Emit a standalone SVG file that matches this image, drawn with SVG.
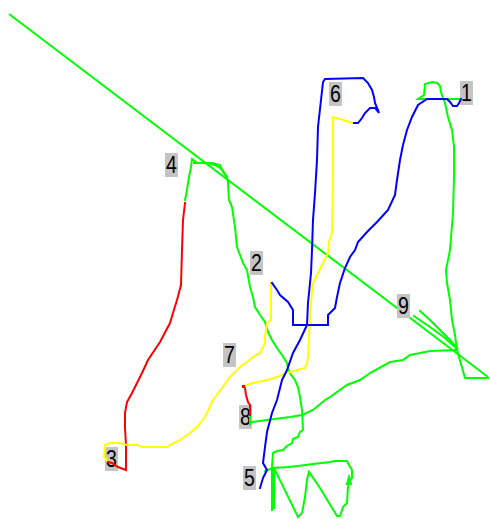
<svg xmlns="http://www.w3.org/2000/svg" width="490" height="519" viewBox="0 0 490 519">
<style>
.bg{fill:#ffffff}
.p{fill:none;stroke-width:2;stroke-linejoin:miter;stroke-linecap:square}
.g{stroke:#00ff00}
.b{stroke:#0000ff}
.r{stroke:#ff0000}
.y{stroke:#ffff00}
.lb{fill:#c4c4c4}
.lt{font-family:"Liberation Sans",Arial,sans-serif;font-size:23px;fill:#000;text-anchor:middle}
</style>
<rect class="bg" x="0" y="0" width="490" height="519"/>
<g id="guide">
<line class="p g" x1="9" y1="14" x2="488" y2="377" style="stroke-linecap:butt"/>
</g>
<g id="labels">
<g id="n1"><rect class="lb" x="460" y="81" width="13" height="24"/><text class="lt" transform="translate(466.5,101) scale(0.85,1)">1</text></g>
<g id="n6"><rect class="lb" x="329" y="82" width="13" height="24"/><text class="lt" transform="translate(335.5,102) scale(0.85,1)">6</text></g>
<g id="n4"><rect class="lb" x="165" y="153" width="13" height="24"/><text class="lt" transform="translate(171.5,173) scale(0.85,1)">4</text></g>
<g id="n2"><rect class="lb" x="250" y="251" width="13" height="24"/><text class="lt" transform="translate(256.5,271) scale(0.85,1)">2</text></g>
<g id="n9"><rect class="lb" x="397" y="294" width="13" height="24"/><text class="lt" transform="translate(403.5,314) scale(0.85,1)">9</text></g>
<g id="n7"><rect class="lb" x="223" y="343" width="13" height="24"/><text class="lt" transform="translate(229.5,363) scale(0.85,1)">7</text></g>
<g id="n8"><rect class="lb" x="239" y="405" width="13" height="24"/><text class="lt" transform="translate(245.5,425) scale(0.85,1)">8</text></g>
<g id="n3"><rect class="lb" x="105" y="447" width="13" height="24"/><text class="lt" transform="translate(111.5,467) scale(0.85,1)">3</text></g>
<g id="n5"><rect class="lb" x="243" y="466" width="13" height="24"/><text class="lt" transform="translate(249.5,486) scale(0.85,1)">5</text></g>
</g>
<g id="connectors">
<polyline class="p g" points="185,200 187,190 189,177 191,167 192,159 196,162"/>
<polyline class="p g" points="194,163 212,163 220,165 223,172 227,177 228,183 229,200 232,207 235,227 237,247 240,255 243,263 247,270 250,287 253,297 255,307 260,315 265,322 268,332 272,340 277,348 282,355 287,363 289,372 295,380 298,387 300,397 302,410 303,430 300,432 298,437 293,439 292,443 287,446 283,450 277,451 273,453 272,467 272,510"/>
<path class="p g" d="M205,163 Q222,164 227,178"/>
<polyline class="p g" points="265,471 273,468 288,467 298,466 313,464 330,462 335,461 347,461 349,465 352,470 352,478 350,480 348,487 347,503 343,507 340,516 337,516 320,488 309,472 307,480 305,497 302,513 298,517 275,470"/>
<line class="p g" x1="274" y1="470" x2="274" y2="508"/>
<polyline class="p g" points="347,484 349,477 351,484"/>
<polyline class="p g" points="250,415 250,424 252,422 267,420 290,417 302,415 313,410 325,400 330,397 347,385 360,380 370,373 390,362 403,360 410,355 430,351 457,350"/>
<polyline class="p g" points="457,350 465,378 488,378"/>
<polyline class="p g" points="420,311 430,320 440,330 450,340 457,348"/>
<polyline class="p g" points="414,316 430,327 445,338 457,349"/>
<polyline class="p g" points="457,350 455,335 452,320 450,300 447,283 446,270 450,250 453,213 454,177 454,147 452,130 448,117 445,103 443,98 441,92 440,86 437,83 432,82 425,84 424,95 418,99 460,99"/>
<polyline class="p r" points="185,203 183,220 182,250 181,285 177,300 173,313 170,323 160,342 148,360 142,373 137,383 132,393 127,402 125,413 125,428 126,445 126,470 118,467 112,463 108,462"/>
<polyline class="p r" points="243,386 245,388 246,395 248,402 250,405 250,415"/>
<polyline class="p y" points="353,123 343,120 333,117 333,180 332,232 329,242 328,253 323,263 318,273 313,283 312,290 310,317 308,357 307,363 305,368 297,370 287,373 277,377 267,380 253,383 246,385"/>
<polyline class="p y" points="271,283 271,320 267,323 265,337 265,343 260,353 253,357 247,362 240,367 230,377 222,388 213,400 205,417 197,427 190,433 180,440 170,445 167,447 142,447 137,445 127,445 120,443 110,443 105,445 104,457 107,460"/>
<polyline class="p b" points="260,488 263,478 267,470 263,463 265,447 267,432 272,413 277,400 282,380 287,370 293,353 300,340 307,325 308,303 311,273 312,250 313,220 315,193 317,160 318,127 321,100 323,82 325,79 363,78 368,83 372,90 374,97 375,103 378,110 379,113 375,108 370,108 365,113 362,118 358,123 354,123"/>
<polyline class="p b" points="461,99 459,103 457,106 453,106 450,102 447,99 427,99 418,105 412,117 407,130 403,145 400,160 397,180 395,195 388,210 377,222 367,232 358,242 355,250 350,257 345,268 340,283 337,297 335,308 328,315 328,325 293,325 293,310 288,302 280,295 277,290 272,283"/>
<rect x="242" y="385" width="3" height="3" fill="#ff0000"/>
</g>
</svg>
